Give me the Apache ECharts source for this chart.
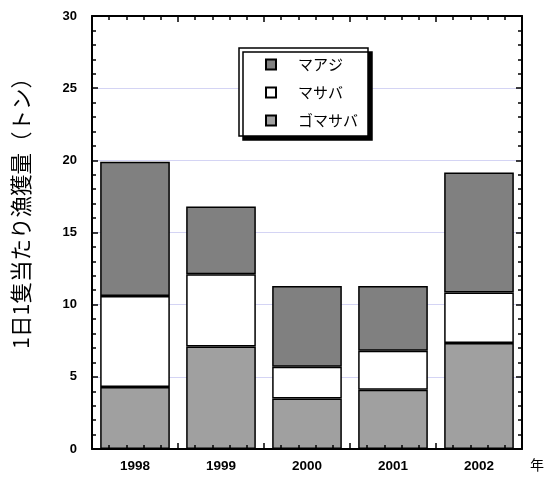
<!DOCTYPE html>
<html>
<head>
<meta charset="utf-8">
<script src="https://cdn.jsdelivr.net/npm/echarts@6/dist/echarts.min.js"></script>
<style>
  html, body { margin: 0; padding: 0; background: #fff; }
  #chart { width: 545px; height: 481px; }
</style>
</head>
<body>
<div id="chart"></div>
<script>
// 年別・魚種別の1日1隻当たり漁獲量（トン）
const years = ['1998', '1999', '2000', '2001', '2002'];
const gomasaba = [4.3, 7.1, 3.5, 4.1, 7.35];   // ゴマサバ
const masaba = [6.3, 5.0, 2.2, 2.7, 3.5];      // マサバ
const maaji = [9.3, 4.7, 5.6, 4.5, 8.3];       // マアジ
const yTicks = [0, 5, 10, 15, 20, 25, 30];

const FONT = '"Liberation Sans", Arial, "Noto Sans CJK JP", sans-serif';
const JP_FONT = '"Noto Sans CJK JP", "Liberation Sans", sans-serif';

const GRID = { left: 92, right: 23, top: 16, bottom: 32 };
const PLOT_W = 545 - GRID.left - GRID.right;
const PLOT_H = 481 - GRID.top - GRID.bottom;

const chart = echarts.init(document.getElementById('chart'), null, { renderer: 'canvas' });

const barBorder = { borderColor: '#000', borderWidth: 1.5 };
const black2 = { color: '#000', width: 2 };
const tickStyle = { color: '#000', width: 1.5 };

// Frame tick rows: an axis placed on the opposite side and shifted across
// the plot, so its outward ticks point into the plot area (drawn over bars).
function tickOnlyAxis(gridIndex, position, offset, max, interval, showLine) {
  return {
    type: 'value', gridIndex: gridIndex, position: position, offset: offset,
    min: 0, max: max, interval: interval, z: 3,
    axisLine: { show: showLine, onZero: false, lineStyle: black2 },
    axisTick: { show: true, inside: false, length: 6, lineStyle: tickStyle },
    minorTick: { show: true, splitNumber: 5, length: 4, lineStyle: tickStyle },
    axisLabel: { show: false },
    splitLine: { show: false }
  };
}

chart.setOption({
  animation: false,
  backgroundColor: '#fff',
  grid: [
    Object.assign({ containLabel: false }, GRID),
    Object.assign({ containLabel: false }, GRID)
  ],
  legend: {
    data: ['マアジ', 'マサバ', 'ゴマサバ'],
    orient: 'vertical',
    left: 239, top: 48,
    z: 10,
    padding: [9, 10, 8, 26],
    itemGap: 13,
    itemWidth: 10, itemHeight: 10,
    icon: 'rect',
    backgroundColor: '#fff',
    borderColor: '#000', borderWidth: 1.5,
    shadowColor: '#000', shadowBlur: 0, shadowOffsetX: 4, shadowOffsetY: 4,
    textStyle: { color: '#000', fontFamily: JP_FONT, fontSize: 15, padding: [0, 0, 0, 17] }
  },
  xAxis: [
    {
      type: 'category', gridIndex: 0, position: 'bottom', data: years, z: 3,
      axisLine: { show: true, onZero: false, lineStyle: black2 },
      axisTick: { show: false },
      axisLabel: { margin: 11, color: '#000', fontFamily: FONT, fontWeight: 'bold', fontSize: 13.5 }
    },
    // bottom frame ticks (pointing up)
    tickOnlyAxis(0, 'top', -PLOT_H, years.length, 1, false),
    // top frame line + ticks (pointing down)
    tickOnlyAxis(1, 'bottom', -PLOT_H, years.length, 1, true)
  ],
  yAxis: [
    {
      type: 'value', gridIndex: 0, position: 'left',
      min: yTicks[0], max: yTicks[yTicks.length - 1], interval: 5,
      axisLine: { show: true, onZero: false, lineStyle: black2 },
      axisTick: { show: false },
      axisLabel: { margin: 15, color: '#000', fontFamily: FONT, fontWeight: 'bold', fontSize: 13 },
      splitLine: { show: true, lineStyle: { color: '#d4d4f4', width: 1 } }
    },
    // left frame ticks (pointing right)
    tickOnlyAxis(0, 'right', -PLOT_W, yTicks[yTicks.length - 1], 5, false),
    // right frame line + ticks (pointing left)
    tickOnlyAxis(1, 'left', -PLOT_W, yTicks[yTicks.length - 1], 5, true)
  ],
  series: [
    { name: 'ゴマサバ', type: 'bar', stack: 'catch', data: gomasaba, barWidth: '81%',
      xAxisIndex: 0, yAxisIndex: 0,
      itemStyle: Object.assign({ color: '#a0a0a0' }, barBorder) },
    { name: 'マサバ', type: 'bar', stack: 'catch', data: masaba, barWidth: '81%',
      xAxisIndex: 0, yAxisIndex: 0,
      itemStyle: Object.assign({ color: '#ffffff' }, barBorder) },
    { name: 'マアジ', type: 'bar', stack: 'catch', data: maaji, barWidth: '81%',
      xAxisIndex: 0, yAxisIndex: 0,
      itemStyle: Object.assign({ color: '#808080' }, barBorder) }
  ],
  graphic: [
    { type: 'text', x: 21, y: 208, rotation: Math.PI / 2,
      style: { text: '1日1隻当たり漁獲量（トン）', fill: '#000', font: '21.5px ' + JP_FONT,
               align: 'center', verticalAlign: 'middle' } },
    { type: 'text', left: 530, top: 458,
      style: { text: '年', fill: '#000', font: '14px ' + JP_FONT } }
  ]
});
</script>
</body>
</html>
